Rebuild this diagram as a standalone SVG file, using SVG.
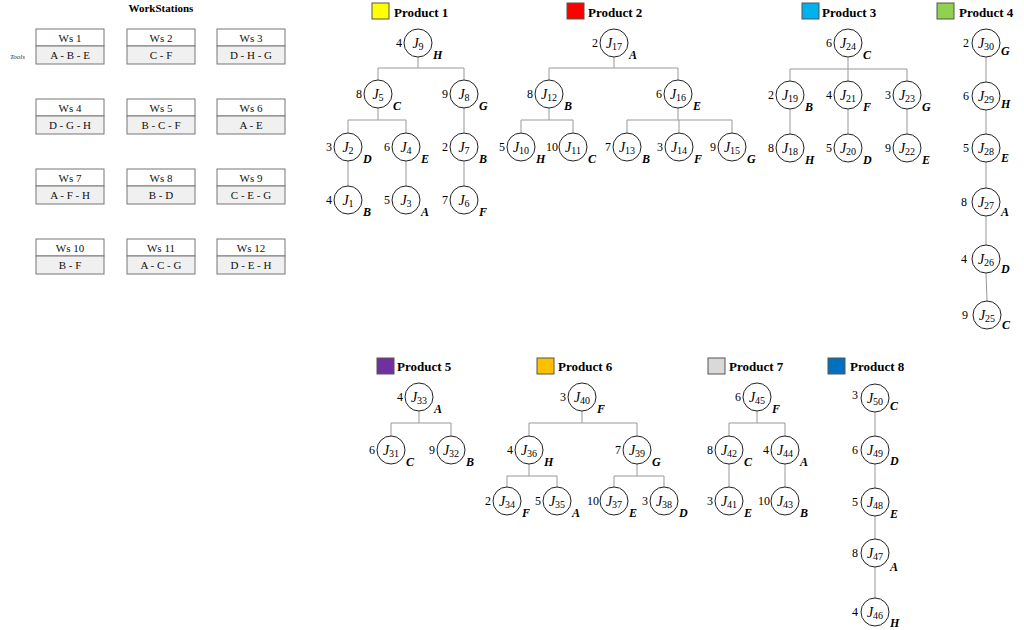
<svg xmlns="http://www.w3.org/2000/svg" width="1024" height="630" viewBox="0 0 1024 630">
<style>
.ttl{font-family:"Liberation Serif",serif;font-weight:bold;font-size:11px;text-anchor:middle}
.ws{font-family:"Liberation Serif",serif;font-size:11px;text-anchor:middle;fill:#111}
.tools{font-family:"Liberation Serif",serif;font-style:italic;font-size:7px;fill:#333}
.wsb{stroke:#777;stroke-width:1}
.prod{font-family:"Liberation Serif",serif;font-weight:bold;font-size:13px}
.sq{stroke:#555;stroke-width:1}
.c{fill:#fff;stroke:#222;stroke-width:1}
.j{font-family:"Liberation Serif",serif;font-size:14px;text-anchor:middle}
.j .i{font-style:italic}
.j .s{font-size:10px}
.n{font-family:"Liberation Serif",serif;font-size:12px;text-anchor:end}
.l{font-family:"Liberation Serif",serif;font-size:12px;font-weight:bold;font-style:italic}
.con{fill:none;stroke:#999;stroke-width:1}
</style>
<rect width="1024" height="630" fill="#fff"/>

<g id="workstations">
<text class="ttl" x="161" y="12">WorkStations</text>
<text class="tools" x="10" y="59">Tools</text>
<g id="ws1"><rect class="wsb" x="36" y="29" width="68" height="17" fill="#fff"/><rect class="wsb" x="36" y="46" width="68" height="18" fill="#f0f0f0"/><text class="ws" x="70" y="42">Ws 1</text><text class="ws" x="70" y="59">A - B - E</text></g>
<g id="ws2"><rect class="wsb" x="127" y="29" width="68" height="17" fill="#fff"/><rect class="wsb" x="127" y="46" width="68" height="18" fill="#f0f0f0"/><text class="ws" x="161" y="42">Ws 2</text><text class="ws" x="161" y="59">C - F</text></g>
<g id="ws3"><rect class="wsb" x="217" y="29" width="68" height="17" fill="#fff"/><rect class="wsb" x="217" y="46" width="68" height="18" fill="#f0f0f0"/><text class="ws" x="251" y="42">Ws 3</text><text class="ws" x="251" y="59">D - H - G</text></g>
<g id="ws4"><rect class="wsb" x="36" y="99" width="68" height="17" fill="#fff"/><rect class="wsb" x="36" y="116" width="68" height="18" fill="#f0f0f0"/><text class="ws" x="70" y="112">Ws 4</text><text class="ws" x="70" y="129">D - G - H</text></g>
<g id="ws5"><rect class="wsb" x="127" y="99" width="68" height="17" fill="#fff"/><rect class="wsb" x="127" y="116" width="68" height="18" fill="#f0f0f0"/><text class="ws" x="161" y="112">Ws 5</text><text class="ws" x="161" y="129">B - C - F</text></g>
<g id="ws6"><rect class="wsb" x="217" y="99" width="68" height="17" fill="#fff"/><rect class="wsb" x="217" y="116" width="68" height="18" fill="#f0f0f0"/><text class="ws" x="251" y="112">Ws 6</text><text class="ws" x="251" y="129">A - E</text></g>
<g id="ws7"><rect class="wsb" x="36" y="169" width="68" height="17" fill="#fff"/><rect class="wsb" x="36" y="186" width="68" height="18" fill="#f0f0f0"/><text class="ws" x="70" y="182">Ws 7</text><text class="ws" x="70" y="199">A - F - H</text></g>
<g id="ws8"><rect class="wsb" x="127" y="169" width="68" height="17" fill="#fff"/><rect class="wsb" x="127" y="186" width="68" height="18" fill="#f0f0f0"/><text class="ws" x="161" y="182">Ws 8</text><text class="ws" x="161" y="199">B - D</text></g>
<g id="ws9"><rect class="wsb" x="217" y="169" width="68" height="17" fill="#fff"/><rect class="wsb" x="217" y="186" width="68" height="18" fill="#f0f0f0"/><text class="ws" x="251" y="182">Ws 9</text><text class="ws" x="251" y="199">C - E - G</text></g>
<g id="ws10"><rect class="wsb" x="36" y="239" width="68" height="17" fill="#fff"/><rect class="wsb" x="36" y="256" width="68" height="18" fill="#f0f0f0"/><text class="ws" x="70" y="252">Ws 10</text><text class="ws" x="70" y="269">B - F</text></g>
<g id="ws11"><rect class="wsb" x="127" y="239" width="68" height="17" fill="#fff"/><rect class="wsb" x="127" y="256" width="68" height="18" fill="#f0f0f0"/><text class="ws" x="161" y="252">Ws 11</text><text class="ws" x="161" y="269">A - C - G</text></g>
<g id="ws12"><rect class="wsb" x="217" y="239" width="68" height="17" fill="#fff"/><rect class="wsb" x="217" y="256" width="68" height="18" fill="#f0f0f0"/><text class="ws" x="251" y="252">Ws 12</text><text class="ws" x="251" y="269">D - E - H</text></g>
</g>

<g id="legends">
<g id="leg1"><rect class="sq" x="372" y="3" width="17" height="16" fill="#ffff00"/><text class="prod" x="394" y="17">Product 1</text></g>
<g id="leg2"><rect class="sq" x="567" y="3" width="17" height="16" fill="#ff0000"/><text class="prod" x="588" y="17">Product 2</text></g>
<g id="leg3"><rect class="sq" x="802" y="3" width="17" height="16" fill="#00b0f0"/><text class="prod" x="822" y="17">Product 3</text></g>
<g id="leg4"><rect class="sq" x="937" y="3" width="17" height="16" fill="#92d050"/><text class="prod" x="959" y="17">Product 4</text></g>
<g id="leg5"><rect class="sq" x="377" y="358" width="17" height="16" fill="#7030a0"/><text class="prod" x="397" y="371">Product 5</text></g>
<g id="leg6"><rect class="sq" x="537" y="358" width="17" height="16" fill="#ffc000"/><text class="prod" x="558" y="371">Product 6</text></g>
<g id="leg7"><rect class="sq" x="708" y="358" width="17" height="16" fill="#d9d9d9"/><text class="prod" x="729" y="371">Product 7</text></g>
<g id="leg8"><rect class="sq" x="828" y="358" width="17" height="16" fill="#0070c0"/><text class="prod" x="850" y="371">Product 8</text></g>
</g>

<g id="connectors" class="con">
<path d="M418,57V68M378,68H464M378,68V80M464,68V80M378,108V120M348,120H406M348,120V133M406,120V133M464,108V133M348,161V186M406,161V186M464,161V186"/>
<path d="M614,57V68M549,68H678M549,68V80M678,68V80M549,108V120M521,120H573M521,120V133M573,120V133M678,108V120M627,120H732M627,120V133M679,120V133M732,120V133"/>
<path d="M848,57V69M790,69H907M790,69V81M848,69V81M907,69V81M790,109V134M848,109V134M907,109V134"/>
<path d="M986,57V82M986,110V134M986,162V188M986,216V245M986,273L987,301"/>
<path d="M419,411V423M391,423H451M391,423V436M451,423V436"/>
<path d="M582,411V423M529,423H637M529,423V436M637,423V436M529,464V476M507,476H557M507,476V487M557,476V487M637,464V476M614,476H664M614,476V487M664,476V487"/>
<path d="M757,411V423M729,423H785M729,423V436M785,423V436M729,464V487M785,464V487"/>
<path d="M875,412V436M875,464V488M875,516V539M875,567V598"/>
</g>

<g id="J9"><circle class="c" cx="418" cy="43" r="14"/><text class="j" x="418" y="48"><tspan class="i">J</tspan><tspan class="s" dy="2">9</tspan></text><text class="n" x="402" y="47">4</text><text class="l" x="433" y="59">H</text></g>
<g id="J5"><circle class="c" cx="378" cy="94" r="14"/><text class="j" x="378" y="99"><tspan class="i">J</tspan><tspan class="s" dy="2">5</tspan></text><text class="n" x="362" y="98">8</text><text class="l" x="393" y="110">C</text></g>
<g id="J8"><circle class="c" cx="464" cy="94" r="14"/><text class="j" x="464" y="99"><tspan class="i">J</tspan><tspan class="s" dy="2">8</tspan></text><text class="n" x="448" y="98">9</text><text class="l" x="479" y="110">G</text></g>
<g id="J2"><circle class="c" cx="348" cy="147" r="14"/><text class="j" x="348" y="152"><tspan class="i">J</tspan><tspan class="s" dy="2">2</tspan></text><text class="n" x="332" y="151">3</text><text class="l" x="363" y="163">D</text></g>
<g id="J4"><circle class="c" cx="406" cy="147" r="14"/><text class="j" x="406" y="152"><tspan class="i">J</tspan><tspan class="s" dy="2">4</tspan></text><text class="n" x="390" y="151">6</text><text class="l" x="421" y="163">E</text></g>
<g id="J7"><circle class="c" cx="464" cy="147" r="14"/><text class="j" x="464" y="152"><tspan class="i">J</tspan><tspan class="s" dy="2">7</tspan></text><text class="n" x="448" y="151">2</text><text class="l" x="479" y="163">B</text></g>
<g id="J1"><circle class="c" cx="348" cy="200" r="14"/><text class="j" x="348" y="205"><tspan class="i">J</tspan><tspan class="s" dy="2">1</tspan></text><text class="n" x="332" y="204">4</text><text class="l" x="363" y="216">B</text></g>
<g id="J3"><circle class="c" cx="406" cy="200" r="14"/><text class="j" x="406" y="205"><tspan class="i">J</tspan><tspan class="s" dy="2">3</tspan></text><text class="n" x="390" y="204">5</text><text class="l" x="421" y="216">A</text></g>
<g id="J6"><circle class="c" cx="464" cy="200" r="14"/><text class="j" x="464" y="205"><tspan class="i">J</tspan><tspan class="s" dy="2">6</tspan></text><text class="n" x="448" y="204">7</text><text class="l" x="479" y="216">F</text></g>

<g id="J17"><circle class="c" cx="614" cy="43" r="14"/><text class="j" x="614" y="48"><tspan class="i">J</tspan><tspan class="s" dy="2">17</tspan></text><text class="n" x="598" y="47">2</text><text class="l" x="629" y="59">A</text></g>
<g id="J12"><circle class="c" cx="549" cy="94" r="14"/><text class="j" x="549" y="99"><tspan class="i">J</tspan><tspan class="s" dy="2">12</tspan></text><text class="n" x="533" y="98">8</text><text class="l" x="564" y="110">B</text></g>
<g id="J16"><circle class="c" cx="678" cy="94" r="14"/><text class="j" x="678" y="99"><tspan class="i">J</tspan><tspan class="s" dy="2">16</tspan></text><text class="n" x="662" y="98">6</text><text class="l" x="693" y="110">E</text></g>
<g id="J10"><circle class="c" cx="521" cy="147" r="14"/><text class="j" x="521" y="152"><tspan class="i">J</tspan><tspan class="s" dy="2">10</tspan></text><text class="n" x="505" y="151">5</text><text class="l" x="536" y="163">H</text></g>
<g id="J11"><circle class="c" cx="573" cy="147" r="14"/><text class="j" x="573" y="152"><tspan class="i">J</tspan><tspan class="s" dy="2">11</tspan></text><text class="n" x="558" y="151">10</text><text class="l" x="588" y="163">C</text></g>
<g id="J13"><circle class="c" cx="627" cy="147" r="14"/><text class="j" x="627" y="152"><tspan class="i">J</tspan><tspan class="s" dy="2">13</tspan></text><text class="n" x="611" y="151">7</text><text class="l" x="642" y="163">B</text></g>
<g id="J14"><circle class="c" cx="679" cy="147" r="14"/><text class="j" x="679" y="152"><tspan class="i">J</tspan><tspan class="s" dy="2">14</tspan></text><text class="n" x="663" y="151">3</text><text class="l" x="694" y="163">F</text></g>
<g id="J15"><circle class="c" cx="732" cy="147" r="14"/><text class="j" x="732" y="152"><tspan class="i">J</tspan><tspan class="s" dy="2">15</tspan></text><text class="n" x="716" y="151">9</text><text class="l" x="747" y="163">G</text></g>

<g id="J24"><circle class="c" cx="848" cy="43" r="14"/><text class="j" x="848" y="48"><tspan class="i">J</tspan><tspan class="s" dy="2">24</tspan></text><text class="n" x="832" y="47">6</text><text class="l" x="863" y="59">C</text></g>
<g id="J19"><circle class="c" cx="790" cy="95" r="14"/><text class="j" x="790" y="100"><tspan class="i">J</tspan><tspan class="s" dy="2">19</tspan></text><text class="n" x="774" y="99">2</text><text class="l" x="805" y="111">B</text></g>
<g id="J21"><circle class="c" cx="848" cy="95" r="14"/><text class="j" x="848" y="100"><tspan class="i">J</tspan><tspan class="s" dy="2">21</tspan></text><text class="n" x="832" y="99">4</text><text class="l" x="863" y="111">F</text></g>
<g id="J23"><circle class="c" cx="907" cy="95" r="14"/><text class="j" x="907" y="100"><tspan class="i">J</tspan><tspan class="s" dy="2">23</tspan></text><text class="n" x="891" y="99">3</text><text class="l" x="922" y="111">G</text></g>
<g id="J18"><circle class="c" cx="790" cy="148" r="14"/><text class="j" x="790" y="153"><tspan class="i">J</tspan><tspan class="s" dy="2">18</tspan></text><text class="n" x="774" y="152">8</text><text class="l" x="805" y="164">H</text></g>
<g id="J20"><circle class="c" cx="848" cy="148" r="14"/><text class="j" x="848" y="153"><tspan class="i">J</tspan><tspan class="s" dy="2">20</tspan></text><text class="n" x="832" y="152">5</text><text class="l" x="863" y="164">D</text></g>
<g id="J22"><circle class="c" cx="907" cy="148" r="14"/><text class="j" x="907" y="153"><tspan class="i">J</tspan><tspan class="s" dy="2">22</tspan></text><text class="n" x="891" y="152">9</text><text class="l" x="922" y="164">E</text></g>

<g id="J30"><circle class="c" cx="986" cy="43" r="14"/><text class="j" x="986" y="48"><tspan class="i">J</tspan><tspan class="s" dy="2">30</tspan></text><text class="n" x="969" y="47">2</text><text class="l" x="1001" y="55">G</text></g>
<g id="J29"><circle class="c" cx="986" cy="96" r="14"/><text class="j" x="986" y="101"><tspan class="i">J</tspan><tspan class="s" dy="2">29</tspan></text><text class="n" x="969" y="100">6</text><text class="l" x="1001" y="108">H</text></g>
<g id="J28"><circle class="c" cx="986" cy="148" r="14"/><text class="j" x="986" y="153"><tspan class="i">J</tspan><tspan class="s" dy="2">28</tspan></text><text class="n" x="969" y="152">5</text><text class="l" x="1001" y="162">E</text></g>
<g id="J27"><circle class="c" cx="986" cy="202" r="14"/><text class="j" x="986" y="207"><tspan class="i">J</tspan><tspan class="s" dy="2">27</tspan></text><text class="n" x="967" y="206">8</text><text class="l" x="1001" y="216">A</text></g>
<g id="J26"><circle class="c" cx="986" cy="259" r="14"/><text class="j" x="986" y="264"><tspan class="i">J</tspan><tspan class="s" dy="2">26</tspan></text><text class="n" x="967" y="263">4</text><text class="l" x="1001" y="273">D</text></g>
<g id="J25"><circle class="c" cx="987" cy="315" r="14"/><text class="j" x="987" y="320"><tspan class="i">J</tspan><tspan class="s" dy="2">25</tspan></text><text class="n" x="968" y="319">9</text><text class="l" x="1002" y="329">C</text></g>

<g id="J33"><circle class="c" cx="419" cy="397" r="14"/><text class="j" x="419" y="402"><tspan class="i">J</tspan><tspan class="s" dy="2">33</tspan></text><text class="n" x="403" y="401">4</text><text class="l" x="434" y="413">A</text></g>
<g id="J31"><circle class="c" cx="391" cy="450" r="14"/><text class="j" x="391" y="455"><tspan class="i">J</tspan><tspan class="s" dy="2">31</tspan></text><text class="n" x="375" y="454">6</text><text class="l" x="406" y="466">C</text></g>
<g id="J32"><circle class="c" cx="451" cy="450" r="14"/><text class="j" x="451" y="455"><tspan class="i">J</tspan><tspan class="s" dy="2">32</tspan></text><text class="n" x="435" y="454">9</text><text class="l" x="466" y="466">B</text></g>

<g id="J40"><circle class="c" cx="582" cy="397" r="14"/><text class="j" x="582" y="402"><tspan class="i">J</tspan><tspan class="s" dy="2">40</tspan></text><text class="n" x="566" y="401">3</text><text class="l" x="597" y="413">F</text></g>
<g id="J36"><circle class="c" cx="529" cy="450" r="14"/><text class="j" x="529" y="455"><tspan class="i">J</tspan><tspan class="s" dy="2">36</tspan></text><text class="n" x="513" y="454">4</text><text class="l" x="544" y="466">H</text></g>
<g id="J39"><circle class="c" cx="637" cy="450" r="14"/><text class="j" x="637" y="455"><tspan class="i">J</tspan><tspan class="s" dy="2">39</tspan></text><text class="n" x="621" y="454">7</text><text class="l" x="652" y="466">G</text></g>
<g id="J34"><circle class="c" cx="507" cy="501" r="14"/><text class="j" x="507" y="506"><tspan class="i">J</tspan><tspan class="s" dy="2">34</tspan></text><text class="n" x="491" y="505">2</text><text class="l" x="522" y="517">F</text></g>
<g id="J35"><circle class="c" cx="557" cy="501" r="14"/><text class="j" x="557" y="506"><tspan class="i">J</tspan><tspan class="s" dy="2">35</tspan></text><text class="n" x="541" y="505">5</text><text class="l" x="572" y="517">A</text></g>
<g id="J37"><circle class="c" cx="614" cy="501" r="14"/><text class="j" x="614" y="506"><tspan class="i">J</tspan><tspan class="s" dy="2">37</tspan></text><text class="n" x="599" y="505">10</text><text class="l" x="629" y="517">E</text></g>
<g id="J38"><circle class="c" cx="664" cy="501" r="14"/><text class="j" x="664" y="506"><tspan class="i">J</tspan><tspan class="s" dy="2">38</tspan></text><text class="n" x="648" y="505">3</text><text class="l" x="679" y="517">D</text></g>

<g id="J45"><circle class="c" cx="757" cy="397" r="14"/><text class="j" x="757" y="402"><tspan class="i">J</tspan><tspan class="s" dy="2">45</tspan></text><text class="n" x="741" y="401">6</text><text class="l" x="772" y="413">F</text></g>
<g id="J42"><circle class="c" cx="729" cy="450" r="14"/><text class="j" x="729" y="455"><tspan class="i">J</tspan><tspan class="s" dy="2">42</tspan></text><text class="n" x="713" y="454">8</text><text class="l" x="744" y="466">C</text></g>
<g id="J44"><circle class="c" cx="785" cy="450" r="14"/><text class="j" x="785" y="455"><tspan class="i">J</tspan><tspan class="s" dy="2">44</tspan></text><text class="n" x="769" y="454">4</text><text class="l" x="800" y="466">A</text></g>
<g id="J41"><circle class="c" cx="729" cy="501" r="14"/><text class="j" x="729" y="506"><tspan class="i">J</tspan><tspan class="s" dy="2">41</tspan></text><text class="n" x="713" y="505">3</text><text class="l" x="744" y="517">E</text></g>
<g id="J43"><circle class="c" cx="785" cy="501" r="14"/><text class="j" x="785" y="506"><tspan class="i">J</tspan><tspan class="s" dy="2">43</tspan></text><text class="n" x="770" y="505">10</text><text class="l" x="800" y="517">B</text></g>

<g id="J50"><circle class="c" cx="875" cy="398" r="14"/><text class="j" x="875" y="403"><tspan class="i">J</tspan><tspan class="s" dy="2">50</tspan></text><text class="n" x="858" y="399">3</text><text class="l" x="890" y="410">C</text></g>
<g id="J49"><circle class="c" cx="875" cy="450" r="14"/><text class="j" x="875" y="455"><tspan class="i">J</tspan><tspan class="s" dy="2">49</tspan></text><text class="n" x="858" y="454">6</text><text class="l" x="890" y="465">D</text></g>
<g id="J48"><circle class="c" cx="875" cy="502" r="14"/><text class="j" x="875" y="507"><tspan class="i">J</tspan><tspan class="s" dy="2">48</tspan></text><text class="n" x="858" y="506">5</text><text class="l" x="890" y="518">E</text></g>
<g id="J47"><circle class="c" cx="875" cy="553" r="14"/><text class="j" x="875" y="558"><tspan class="i">J</tspan><tspan class="s" dy="2">47</tspan></text><text class="n" x="858" y="557">8</text><text class="l" x="890" y="571">A</text></g>
<g id="J46"><circle class="c" cx="875" cy="612" r="14"/><text class="j" x="875" y="617"><tspan class="i">J</tspan><tspan class="s" dy="2">46</tspan></text><text class="n" x="858" y="616">4</text><text class="l" x="890" y="627">H</text></g>
</svg>
